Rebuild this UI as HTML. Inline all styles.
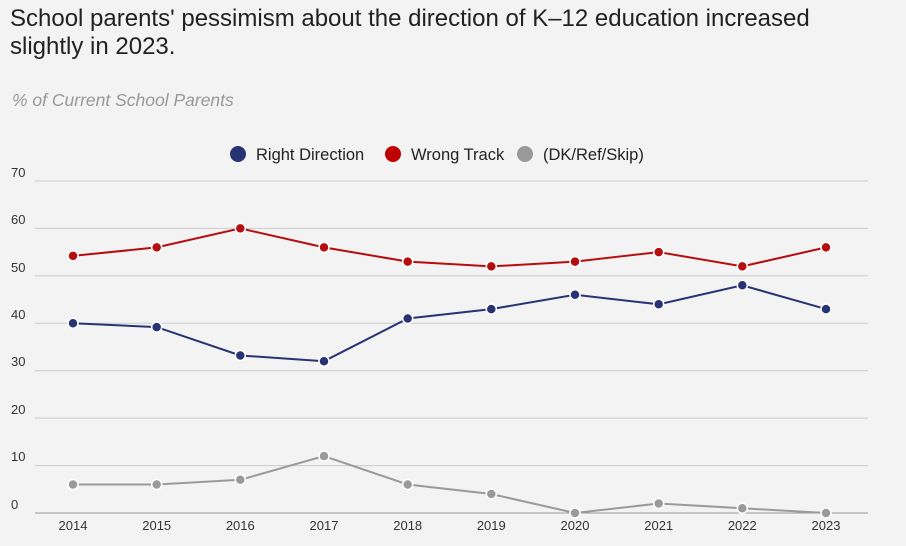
<!DOCTYPE html>
<html><head><meta charset="utf-8"><style>
body{margin:0;background:#f3f3f3;width:906px;height:541px;overflow:hidden;font-family:"Liberation Sans",sans-serif}
</style></head><body>
<svg width="906" height="541" xmlns="http://www.w3.org/2000/svg" font-family="Liberation Sans, sans-serif">
<rect width="906" height="541" fill="#f3f3f3"/>
<text x="10" y="26" font-size="24" fill="#222">School parents' pessimism about the direction of K–12 education increased</text>
<text x="10" y="54" font-size="24" fill="#222">slightly in 2023.</text>
<text x="12" y="106" font-size="17.5" font-style="italic" fill="#999">% of Current School Parents</text>
<circle cx="238" cy="154" r="8" fill="#283374"/><text x="256" y="160" font-size="16.5" fill="#222">Right Direction</text>
<circle cx="393" cy="154" r="8" fill="#c00000"/><text x="411" y="160" font-size="16.5" fill="#222">Wrong Track</text>
<circle cx="525" cy="154" r="8" fill="#999"/><text x="543" y="160" font-size="16.5" fill="#222">(DK/Ref/Skip)</text>
<g stroke="#ccc" stroke-width="1">
<line x1="35" x2="868" y1="181" y2="181"/><line x1="35" x2="868" y1="228.4" y2="228.4"/>
<line x1="35" x2="868" y1="275.9" y2="275.9"/><line x1="35" x2="868" y1="323.3" y2="323.3"/>
<line x1="35" x2="868" y1="370.7" y2="370.7"/><line x1="35" x2="868" y1="418.1" y2="418.1"/>
<line x1="35" x2="868" y1="465.6" y2="465.6"/><line x1="35" x2="868" y1="513" y2="513" stroke="#999"/>
</g>
<g font-size="13" fill="#333">
<text x="11" y="177">70</text><text x="11" y="224">60</text><text x="11" y="272">50</text>
<text x="11" y="319">40</text><text x="11" y="366">30</text><text x="11" y="414">20</text>
<text x="11" y="461">10</text><text x="11" y="509">0</text>
</g>
<g font-size="13" fill="#333" text-anchor="middle">
<text x="73" y="530">2014</text><text x="156.7" y="530">2015</text><text x="240.3" y="530">2016</text>
<text x="324" y="530">2017</text><text x="407.7" y="530">2018</text><text x="491.3" y="530">2019</text>
<text x="575" y="530">2020</text><text x="658.7" y="530">2021</text><text x="742.3" y="530">2022</text>
<text x="826" y="530">2023</text>
</g>
<polyline fill="none" stroke="#283374" stroke-width="2" points="73,323.3 156.7,327.1 240.3,355.5 324,361.2 407.7,318.5 491.3,309.1 575,294.8 658.7,304.3 742.3,285.3 826,309.1"/>
<polyline fill="none" stroke="#b50d10" stroke-width="2" points="73,255.9 156.7,247.4 240.3,228.4 324,247.4 407.7,261.6 491.3,266.4 575,261.6 658.7,252.1 742.3,266.4 826,247.4"/>
<polyline fill="none" stroke="#9a9a9a" stroke-width="2" points="73,484.5 156.7,484.5 240.3,479.8 324,456.1 407.7,484.5 491.3,494 575,513 658.7,503.5 742.3,508.3 826,513"/>
<g fill="#283374" stroke="#fff" stroke-width="1.5">
<circle cx="73" cy="323.3" r="5"/><circle cx="156.7" cy="327.1" r="5"/><circle cx="240.3" cy="355.5" r="5"/><circle cx="324" cy="361.2" r="5"/><circle cx="407.7" cy="318.5" r="5"/><circle cx="491.3" cy="309.1" r="5"/><circle cx="575" cy="294.8" r="5"/><circle cx="658.7" cy="304.3" r="5"/><circle cx="742.3" cy="285.3" r="5"/><circle cx="826" cy="309.1" r="5"/>
</g>
<g fill="#b50d10" stroke="#fff" stroke-width="1.5">
<circle cx="73" cy="255.9" r="5"/><circle cx="156.7" cy="247.4" r="5"/><circle cx="240.3" cy="228.4" r="5"/><circle cx="324" cy="247.4" r="5"/><circle cx="407.7" cy="261.6" r="5"/><circle cx="491.3" cy="266.4" r="5"/><circle cx="575" cy="261.6" r="5"/><circle cx="658.7" cy="252.1" r="5"/><circle cx="742.3" cy="266.4" r="5"/><circle cx="826" cy="247.4" r="5"/>
</g>
<g fill="#9a9a9a" stroke="#fff" stroke-width="1.5">
<circle cx="73" cy="484.5" r="5"/><circle cx="156.7" cy="484.5" r="5"/><circle cx="240.3" cy="479.8" r="5"/><circle cx="324" cy="456.1" r="5"/><circle cx="407.7" cy="484.5" r="5"/><circle cx="491.3" cy="494" r="5"/><circle cx="575" cy="513" r="5"/><circle cx="658.7" cy="503.5" r="5"/><circle cx="742.3" cy="508.3" r="5"/><circle cx="826" cy="513" r="5"/>
</g>
</svg>
</body></html>
